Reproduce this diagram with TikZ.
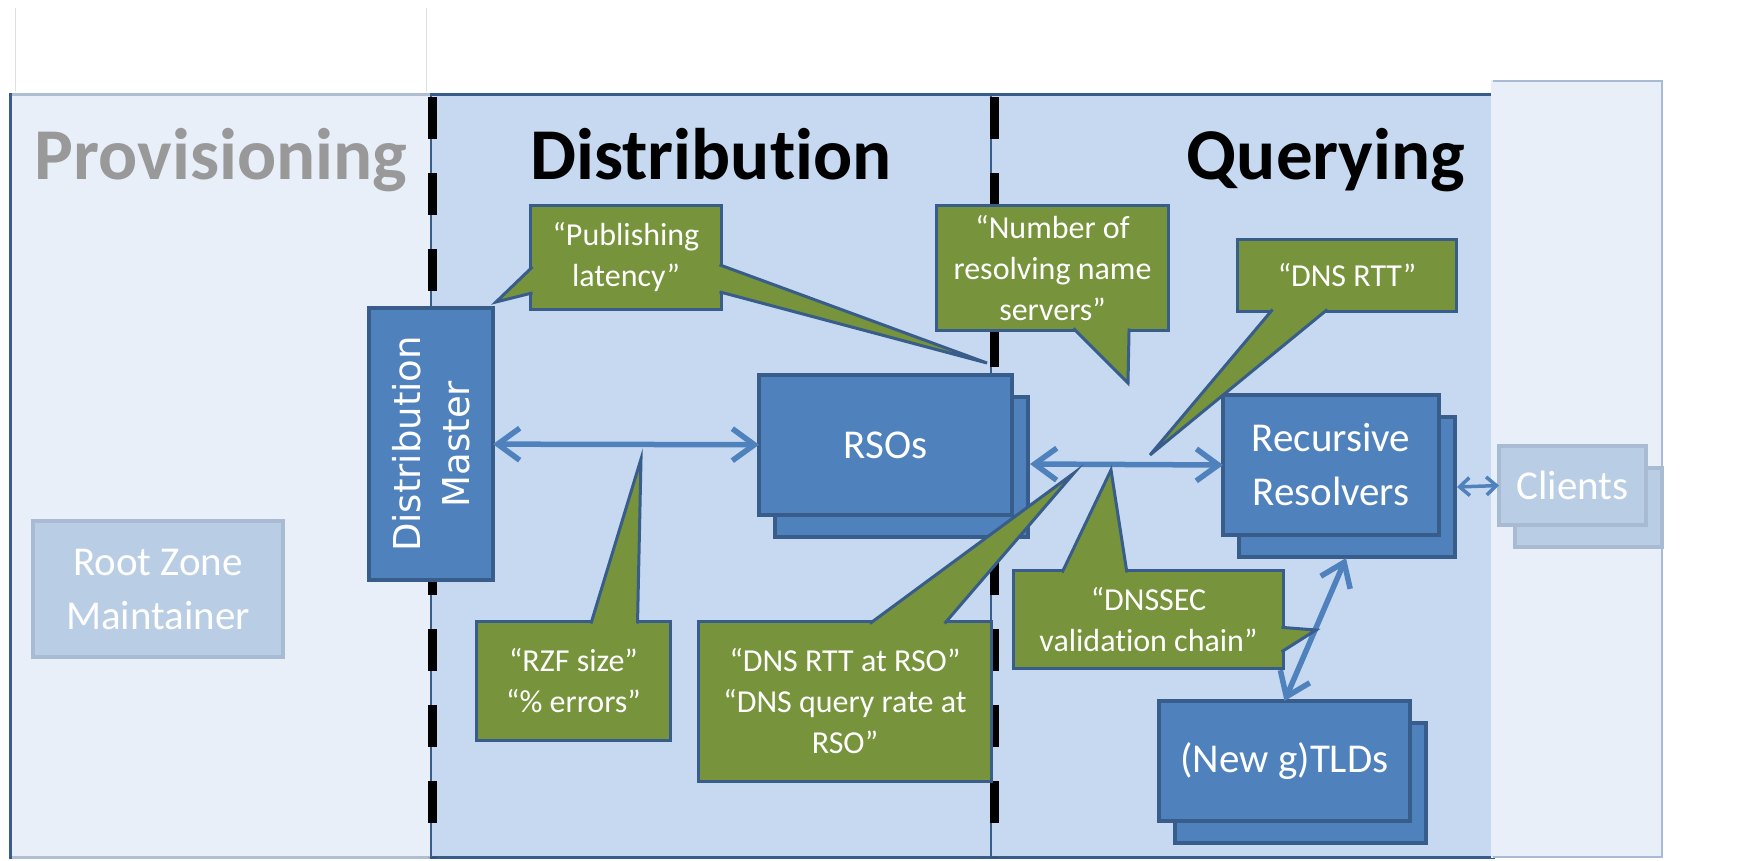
\documentclass[tikz,border=0pt]{standalone}
\usepackage{fontspec}
\setmainfont{Carlito}[Ligatures={TeX,NoCommon}]
\newfontfamily\masterfont{DejaVu Sans}
\usetikzlibrary{calc}
\usetikzlibrary{shadows}
\usetikzlibrary{arrows.meta}
\definecolor{panelblue}{HTML}{C6D9F0}
\definecolor{paleblue}{HTML}{E8EFF8}
\definecolor{frameblue}{HTML}{385D8A}
\definecolor{boxblue}{HTML}{4F81BD}
\definecolor{olivegreen}{HTML}{77933C}
\definecolor{fadedfill}{HTML}{B9CDE5}
\definecolor{fadedline}{HTML}{A8BBD3}
\definecolor{titlegrey}{HTML}{999999}
\tikzset{server/.style = {shape=rectangle,draw=frameblue,fill=boxblue,line width=4pt,text=white,align=center,inner sep=0pt,outer sep=0pt,font=\fontsize{41}{54}\selectfont}}
\tikzset{faded/.style = {server,draw=fadedline,fill=fadedfill}}
\tikzset{stack/.style = {copy shadow={shadow xshift=16pt,shadow yshift=-22pt}}}
\tikzset{note/.style = {shape=rectangle,draw=frameblue,fill=olivegreen,line width=3pt,text=white,align=center,inner sep=0pt,outer sep=0pt,font=\fontsize{32}{41}\selectfont}}
\tikzset{tongue/.style = {draw=frameblue,fill=olivegreen,line width=3pt}}
\tikzset{link/.style = {{Straight Barb[length=22pt,width=32pt]}-{Straight Barb[length=22pt,width=32pt]},draw=boxblue,line width=5.5pt}}
\tikzset{title/.style = {anchor=base,inner sep=0pt,font=\fontsize{73}{80}\selectfont\bfseries}}

\begin{document}
\begin{tikzpicture}[x=1pt,y=-1pt]
            \useasboundingbox (0,0) rectangle (1747,860);
            \fill[white] (0,0) rectangle (1747,860);

            % Panels
            \draw[gray!25,line width=1pt] (15,8) -- (15,94);
            \draw[gray!25,line width=1pt] (426,8) -- (426,94);
            \draw[frameblue,fill=panelblue,line width=3pt] (10,94) rectangle (1493,857);
            \fill[white,opacity=0.6] (12,91) rectangle (430,860);
            \fill[paleblue] (1491,80) rectangle (1663,858);
            \draw[fadedline,line width=2.5pt] (1493,81) -- (1662,81) -- (1662,857) -- (1493,857);

            % Dividers
            \draw[frameblue,line width=2pt] (431,94) -- (431,857);
            \draw[frameblue,line width=2pt] (991,94) -- (991,857);
            \draw[black,line width=9pt,dash pattern=on 42pt off 34pt] (432,97) -- (432,857);
            \draw[black,line width=9pt,dash pattern=on 42pt off 34pt] (994,97) -- (994,857);

            % Titles
            \node[title,titlegrey] (prov) at (221,179) {Provisioning};
            \node[title] (dist) at (711,179) {Distribution};
            \node[title] (query) at (1326,179) {Querying};

            % Servers
            \node[faded,minimum width=250pt,minimum height=136pt] (rzm) at (158,589) {Root Zone\\Maintainer};
            \node[server,rotate=90,minimum width=272pt,minimum height=124pt,font=\masterfont\fontsize{37}{49}\selectfont] (dm) at (431,444) {Distribution\\Master};
            \node[server,stack,minimum width=253pt,minimum height=140pt] (rso) at (885.5,445) {RSOs};
            \node[server,stack,minimum width=216pt,minimum height=140pt] (rr) at (1331,465) {Recursive\\Resolvers};
            \node[server,stack,minimum width=251pt,minimum height=120pt] (tld) at (1284.5,761) {(New g)TLDs};
            \node[faded,stack,minimum width=147pt,minimum height=79pt] (cli) at (1572.5,485.5) {Clients};

            % Links
            \draw[link] (dm) -- (rso);
            \draw[link] ([shift={(18pt,-19pt)}]rso.east) -- (rr.west);
            \draw[link] ([shift={(15pt,-23pt)}]rr.south) -- (tld.north);
            \draw[link,line width=3.5pt,{Straight Barb[length=10pt,width=18pt]}-{Straight Barb[length=10pt,width=18pt]}] ([shift={(18pt,-22pt)}]rr.east) -- (cli.west);

            % Callouts
            \node[note,minimum width=191pt,minimum height=104pt] (publat) at (626,257.5) {“Publishing\\latency”};
            \node[note,minimum width=232pt,minimum height=125pt] (nameservers) at (1052.5,268) {“Number of\\resolving name\\servers”};
            \node[note,minimum width=219pt,minimum height=72pt] (dnsrtt) at (1347,275.5) {“DNS RTT”};
            \node[note,minimum width=194pt,minimum height=119pt] (rzfsize) at (573.5,681) {“RZF size”\\“\% errors”};
            \node[note,minimum width=293pt,minimum height=160pt] (rsortt) at (845,701.5) {“DNS RTT at RSO”\\“DNS query rate at\\RSO”};
            \node[note,minimum width=270pt,minimum height=98pt] (dnssec) at (1148.5,619.5) {“DNSSEC\\validation chain”};

            % Pointers
            \coordinate (publat tip l) at (496,302);
            \coordinate (publat tip r) at (987,363);
            \coordinate (nameservers tip) at (1128,383);
            \coordinate (dnsrtt tip) at (1150,455);
            \coordinate (rzfsize tip) at (641,459);
            \coordinate (rsortt tip) at (1074,473);
            \coordinate (dnssec tip t) at (1111,470);
            \coordinate (dnssec tip r) at (1316,630);

            \filldraw[tongue] ($(publat.north west)!0.59!(publat.south west)+(2,0)$) -- (publat tip l) -- ($(publat.north west)!0.84!(publat.south west)+(2,0)$);
            \filldraw[tongue] ($(publat.north east)!0.57!(publat.south east)+(-2,0)$) -- (publat tip r) -- ($(publat.north east)!0.83!(publat.south east)+(-2,0)$);
            \filldraw[tongue] ($(nameservers.south west)!0.59!(nameservers.south east)+(0,-2)$) -- (nameservers tip) -- ($(nameservers.south west)!0.83!(nameservers.south east)+(0,-2)$);
            \filldraw[tongue] ($(dnsrtt.south west)!0.16!(dnsrtt.south east)+(0,-2)$) -- (dnsrtt tip) -- ($(dnsrtt.south west)!0.41!(dnsrtt.south east)+(0,-2)$);
            \filldraw[tongue] ($(rzfsize.north west)!0.59!(rzfsize.north east)+(0,2)$) -- (rzfsize tip) -- ($(rzfsize.north west)!0.83!(rzfsize.north east)+(0,2)$);
            \filldraw[tongue] ($(rsortt.north west)!0.585!(rsortt.north east)+(0,2)$) -- (rsortt tip) -- ($(rsortt.north west)!0.84!(rsortt.north east)+(0,2)$);
            \filldraw[tongue] ($(dnssec.north west)!0.18!(dnssec.north east)+(0,2)$) -- (dnssec tip t) -- ($(dnssec.north west)!0.42!(dnssec.north east)+(0,2)$);
            \filldraw[tongue] ($(dnssec.north east)!0.58!(dnssec.south east)+(-2,0)$) -- (dnssec tip r) -- ($(dnssec.north east)!0.83!(dnssec.south east)+(-2,0)$);
        \end{tikzpicture}
\end{document}
